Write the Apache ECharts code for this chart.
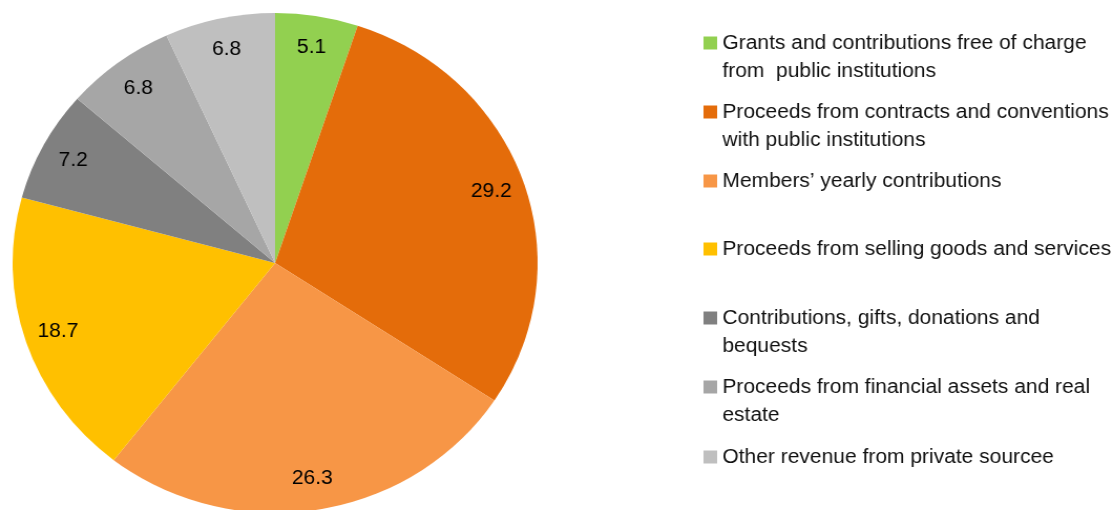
<!DOCTYPE html>
<html>
<head>
<meta charset="utf-8">
<script src="https://cdn.jsdelivr.net/npm/echarts@6/dist/echarts.min.js"></script>
<style>
  html, body { margin: 0; padding: 0; background: #fff; overflow: hidden; }
  /* the reference pie is slightly wider than tall, so stretch the whole chart a little */
  #chart { width: 1067px; height: 510px; transform: scaleX(1.05); transform-origin: 0 0; }
</style>
</head>
<body>
<div id="chart"></div>
<script>
// revenue shares (%)
const categories = [
  'Grants and contributions free of charge\nfrom  public institutions',
  'Proceeds from contracts and conventions\nwith public institutions',
  'Members\u2019 yearly contributions',
  'Proceeds from selling goods and services',
  'Contributions, gifts, donations and\nbequests',
  'Proceeds from financial assets and real\nestate',
  'Other revenue from private sourcee'
]
const values = [5.1, 29.2, 26.3, 18.7, 7.2, 6.8, 6.8]
const colors = ['#92D050', '#E46C0A', '#F79646', '#FFC000', '#808080', '#A6A6A6', '#BFBFBF']

// icon centre of each legend entry (px from top)
const legendY = [43, 112, 181, 249, 318, 387, 457]

const chart = echarts.init(document.getElementById('chart'))

const pieData = categories.map((name, i) => ({ name: name, value: values[i] }))

const legends = categories.map((name, i) => {
  const twoLines = name.indexOf('\n') >= 0
  return {
    orient: 'vertical',
    left: 670,
    // two-line entries get an empty first line so the icon sits on the first text line
    top: legendY[i] - (twoLines ? 42 : 14),
    padding: 0,
    itemWidth: 13,
    itemHeight: 13,
    selectedMode: false,
    icon: 'rect',
    data: [name],
    formatter: n => (twoLines ? '\n' + n : n),
    textStyle: {
      fontFamily: 'Liberation Sans, Arial, sans-serif',
      fontSize: 20,
      color: '#111',
      lineHeight: 28
    }
  }
})

chart.setOption({
  animation: false,
  color: colors,
  legend: legends,
  series: [
    {
      type: 'pie',
      center: [262, 263],
      radius: [0, 250],
      startAngle: 90,
      clockwise: true,
      silent: true,
      label: { show: false },
      labelLine: { show: false },
      itemStyle: { borderWidth: 0 },
      data: pieData
    },
    {
      // transparent ring only used to place the value labels near the rim
      type: 'pie',
      center: [262, 263],
      radius: [180, 250],
      startAngle: 90,
      clockwise: true,
      silent: true,
      itemStyle: { color: 'rgba(0,0,0,0)' },
      label: {
        show: true,
        position: 'inside',
        formatter: p => p.value.toFixed(1),
        fontFamily: 'Liberation Sans, Arial, sans-serif',
        fontSize: 20,
        color: '#000'
      },
      labelLine: { show: false },
      data: pieData
    }
  ]
})
</script>
</body>
</html>
